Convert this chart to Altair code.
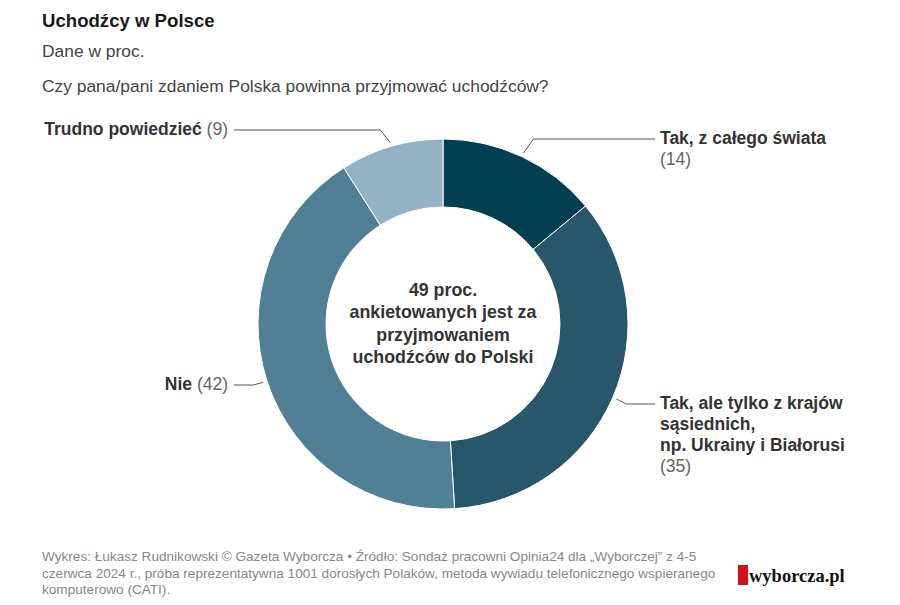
import math
import altair as alt
import pandas as pd

# ---------------- data ----------------
categories = ["Tak, z całego świata",
              "Tak, ale tylko z krajów sąsiednich, np. Ukrainy i Białorusi",
              "Nie",
              "Trudno powiedzieć"]
values = [14, 35, 42, 9]
colors = ["#033f53", "#28566a", "#507f96", "#94b2c3"]
label_lines = [["Tak, z całego świata"],
               ["Tak, ale tylko z krajów", "sąsiednich,", "np. Ukrainy i Białorusi"],
               ["Nie"],
               ["Trudno powiedzieć"]]
center_lines = ["49 proc.", "ankietowanych jest za", "przyjmowaniem", "uchodźców do Polski"]
title = "Uchodźcy w Polsce"
subtitle = "Dane w proc."
question = "Czy pana/pani zdaniem Polska powinna przyjmować uchodźców?"
footer = ["Wykres: Łukasz Rudnikowski © Gazeta Wyborcza • Źródło: Sondaż pracowni Opinia24 dla „Wyborczej” z 4-5",
          "czerwca 2024 r., próba reprezentatywna 1001 dorosłych Polaków, metoda wywiadu telefonicznego wspieranego",
          "komputerowo (CATI)."]
logo_text = "wyborcza.pl"

# ---------------- layout ----------------
W, H = 884, 589
OFF = 8  # page margin
cx, cy = 443 - OFF, 324 - OFF
R_OUT, R_IN = 185, 117
R_ANCHOR = 189
label_y = {0: 139 - OFF, 1: 404 - OFF, 2: 385 - OFF, 3: 130 - OFF}
RIGHT_LINE_END = 655 - OFF
LEFT_LINE_END = 234 - OFF
RIGHT_TEXT_X = 660 - OFF
LEFT_TEXT_X = 228 - OFF
FS = 17.5
LH = 21
FONT = "Liberation Sans"

df = pd.DataFrame({"cat": categories, "value": values, "idx": range(len(values))})

arc = alt.Chart(df).mark_arc(innerRadius=R_IN, outerRadius=R_OUT, stroke="white",
                             strokeWidth=1).encode(
    theta=alt.Theta("value:Q", stack=True),
    color=alt.Color("cat:N", scale=alt.Scale(domain=categories, range=colors), legend=None),
    order=alt.Order("idx:Q"),
    x=alt.value(cx), y=alt.value(cy),
)

# leader lines and labels derived from slice angles
total = sum(values)
cum = 0
line_rows, bold_rows, num_rows = [], [], []
for i, v in enumerate(values):
    a = (cum + v / 2) / total * 2 * math.pi
    cum += v
    ax = cx + R_ANCHOR * math.sin(a)
    ay = cy - R_ANCHOR * math.cos(a)
    right = math.sin(a) > 0
    s = 1 if right else -1
    ly = label_y[i]
    ex = RIGHT_LINE_END if right else LEFT_LINE_END
    for k, (px, py) in enumerate([(ax, ay), (ax + 10 * s, ly), (ex, ly)]):
        line_rows.append({"cat": categories[i], "o": k, "x": px, "y": py})
    num = f"({v})"
    if right:
        for j, t in enumerate(label_lines[i]):
            bold_rows.append({"t": t, "x": RIGHT_TEXT_X, "y": ly + j * LH, "align": "left"})
        num_rows.append({"t": num, "x": RIGHT_TEXT_X, "y": ly + len(label_lines[i]) * LH, "align": "left"})
    else:
        num_w = (0.666 + 0.556 * len(str(v))) * FS
        num_rows.append({"t": num, "x": LEFT_TEXT_X, "y": ly, "align": "right"})
        bold_rows.append({"t": label_lines[i][0], "x": LEFT_TEXT_X - num_w - 0.278 * FS,
                          "y": ly, "align": "right"})

lines = alt.Chart(pd.DataFrame(line_rows)).mark_line(color="#555555", strokeWidth=1).encode(
    x=alt.X("x:Q", scale=None, axis=None),
    y=alt.Y("y:Q", scale=None, axis=None),
    detail="cat:N",
    order="o:Q",
)

bold_df = pd.DataFrame(bold_rows)
bold_left = alt.Chart(bold_df[bold_df["align"] == "left"]).mark_text(
    font=FONT, fontSize=FS, fontWeight="bold", color="#333333", align="left", baseline="middle"
).encode(x=alt.X("x:Q", scale=None), y=alt.Y("y:Q", scale=None), text="t:N")
bold_right = alt.Chart(bold_df[bold_df["align"] == "right"]).mark_text(
    font=FONT, fontSize=FS, fontWeight="bold", color="#333333", align="right", baseline="middle"
).encode(x=alt.X("x:Q", scale=None), y=alt.Y("y:Q", scale=None), text="t:N")
num_df = pd.DataFrame(num_rows)
num_left = alt.Chart(num_df[num_df["align"] == "left"]).mark_text(
    font=FONT, fontSize=FS, color="#666666", align="left", baseline="middle"
).encode(x=alt.X("x:Q", scale=None), y=alt.Y("y:Q", scale=None), text="t:N")
num_right = alt.Chart(num_df[num_df["align"] == "right"]).mark_text(
    font=FONT, fontSize=FS, color="#666666", align="right", baseline="middle"
).encode(x=alt.X("x:Q", scale=None), y=alt.Y("y:Q", scale=None), text="t:N")

center_df = pd.DataFrame({"t": center_lines,
                          "y": [cy + 0.5 + (k - 1.5) * 22.5 for k in range(len(center_lines))]})
center = alt.Chart(center_df).mark_text(
    font=FONT, fontSize=17.8, fontWeight="bold", color="#333333", align="center", baseline="middle"
).encode(x=alt.value(cx), y=alt.Y("y:Q", scale=None), text="t:N")

def txt(t, x, y, size, color, weight="normal", font=FONT, baseline="alphabetic"):
    return alt.Chart(pd.DataFrame({"t": [t]})).mark_text(
        font=font, fontSize=size, fontWeight=weight, color=color, align="left", baseline=baseline
    ).encode(x=alt.value(x), y=alt.value(y), text="t:N")

title_m = txt(title, 42 - OFF, 27 - OFF, 18.6, "#1a1a1a", "bold")
sub_m = txt(subtitle, 42 - OFF, 57 - OFF, 17.4, "#444444")
q_m = txt(question, 42 - OFF, 92 - OFF, 17.4, "#444444")

foot_df = pd.DataFrame({"t": footer, "y": [557 - OFF + k * 16.5 for k in range(len(footer))]})
foot = alt.Chart(foot_df).mark_text(
    font=FONT, fontSize=13.6, color="#888888", align="left", baseline="middle"
).encode(x=alt.value(42 - OFF), y=alt.Y("y:Q", scale=None), text="t:N")

logo_rect = alt.Chart(pd.DataFrame({"a": [0]})).mark_rect(color="#d0101a").encode(
    x=alt.value(738 - OFF), x2=alt.value(748 - OFF), y=alt.value(565 - OFF), y2=alt.value(585 - OFF))
logo = txt(logo_text, 749 - OFF, 582 - OFF, 18.5, "#111111", "bold", "Liberation Serif")

chart = alt.layer(arc, lines, bold_left, bold_right, num_left, num_right, center,
                  title_m, sub_m, q_m, foot, logo_rect, logo).properties(
    width=W, height=H, autosize=alt.AutoSizeParams(type="none"), padding=0,
    background="white"
).configure_view(strokeWidth=0)

chart.save("out.html", embed_options={"renderer": "svg", "actions": False})
